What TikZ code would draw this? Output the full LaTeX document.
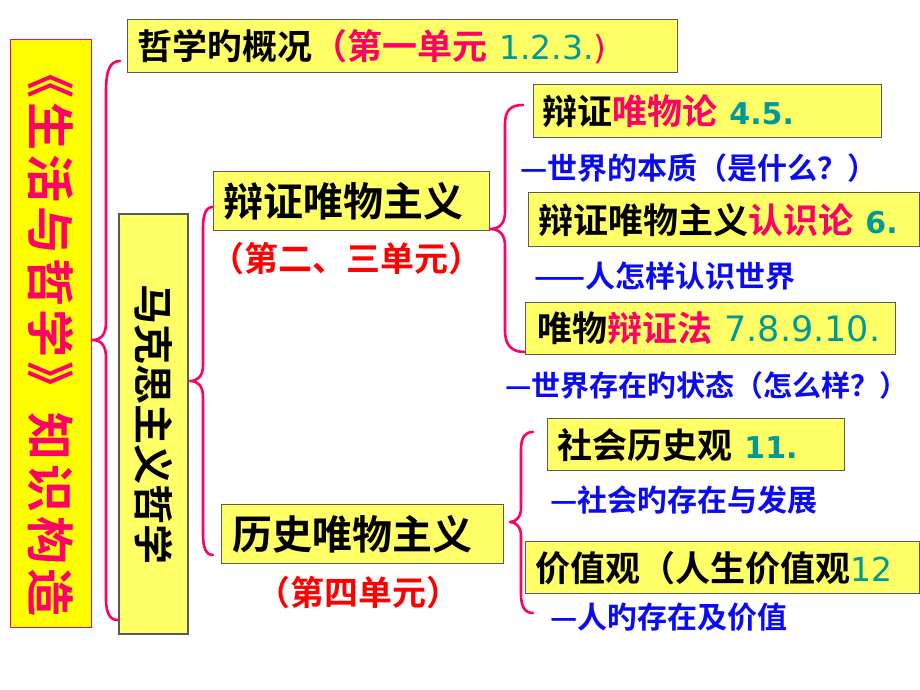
\documentclass[tikz,border=0pt]{standalone}
\usepackage{fontspec}
\newfontfamily\cjk{Noto Sans CJK SC Bold}
\newfontfamily\cjkls{Noto Sans CJK SC Bold}[LetterSpace=8]
\newfontfamily\dvr{DejaVu Sans}
\newfontfamily\dvb{DejaVu Sans Bold}
\definecolor{pinkc}{HTML}{FF0066}
\definecolor{tealc}{HTML}{009999}
\definecolor{bluec}{HTML}{0A0AF5}
\definecolor{redc}{HTML}{FF0000}
\definecolor{ylt}{HTML}{FFFF66}
\definecolor{ybr}{HTML}{FFFF00}
\definecolor{boxln}{HTML}{5A5A5A}
\newcommand{\fsz}[1]{\fontsize{#1}{#1}\selectfont}
\newcommand{\numr}[1]{{\dvr\fsz{33}\textcolor{tealc}{#1}}}
\newcommand{\numb}[1]{{\dvb\fsz{30}\textcolor{tealc}{#1}}}
\begin{document}
\begin{tikzpicture}[x=1pt,y=-1pt,
  box/.style={draw=boxln, line width=1.4pt, fill=ylt, anchor=north west,
    inner xsep=10pt, inner ysep=0pt, align=left, font=\cjk\fsz{35}},
  bigbox/.style={box, font=\cjk\fsz{40}},
  note/.style={anchor=west, inner sep=0pt, text=bluec, font=\cjk\fsz{30}},
  unit/.style={inner sep=0pt, text=redc, font=\cjk\fsz{34}},
  brace/.style={draw=pinkc, line width=2.6pt, line cap=round, line join=round}]
\useasboundingbox (0,0) rectangle (920,690);
\fill[white] (0,0) rectangle (920,690);

% left title column
\node[rotate=-90, draw=pinkc, line width=1pt, fill=ybr, minimum width=587pt,
  minimum height=81pt, inner sep=0pt, text=pinkc, font=\cjkls\fsz{48}] (zs) at (50.5,333.5)
  {《生活与哲学》\hspace{3pt}知识构造\hspace{30pt}};

% Marxist philosophy column
\node[rotate=-90, draw=boxln, line width=1.4pt, fill=ylt, minimum width=420pt,
  minimum height=69pt, inner sep=0pt, font=\cjk\fsz{40}] (mk) at (153.5,424)
  {马克思主义哲学};

% top box
\node[box, text width=530pt, minimum height=53pt] (gk) at (127,19)
  {哲学旳概况\textcolor{pinkc}{（第一单元} \numr{1.2.3.}{\dvr\fsz{33}\textcolor{pinkc}{)}}};

% second level
\node[bigbox, text width=256pt, minimum height=59pt] (bz) at (213,171) {辩证唯物主义};
\node[unit] (bzu) at (346,259) {（第二、三单元）};
\node[bigbox, inner xsep=11pt, text width=260pt, minimum height=59pt] (ls) at (221,504) {历史唯物主义};
\node[unit] (lsu) at (358,593) {（第四单元）};

% third level
\node[box, inner xsep=9pt, text width=330pt, minimum height=53pt] (wl) at (533,84)
  {辩证\textcolor{pinkc}{唯物论} \numb{4.5.}};
\node[note] (n1) at (520,168) {—世界的本质（是什么？）};
\node[box, text width=371pt, minimum height=54pt] (rs) at (528,192)
  {辩证唯物主义\textcolor{pinkc}{认识论} \numb{6.}};
\node[note] (n2) at (534,276) {——人怎样认识世界};
\node[box, inner xsep=12pt, text width=346pt, minimum height=52pt] (bf) at (525,302)
  {唯物\textcolor{pinkc}{辩证法} {\dvr\fsz{35}\textcolor{tealc}{7.8.9.10.}}};
\node[note, font=\cjk\fsz{29}] (n3) at (505,385) {—世界存在旳状态（怎么样？）};
\node[box, text width=277pt, minimum height=52pt] (sh) at (547,418)
  {社会历史观 \numb{11.}};
\node[note] (n4) at (550,500) {—社会旳存在与发展};
\node[box, text width=374pt, minimum height=52pt] (jz) at (525,541)
  {价值观（人生价值观\numr{12}};
\node[note] (n5) at (550,617) {—人旳存在及价值};

% brace 1
\coordinate (b1t) at (120,61);
\coordinate (b1m) at (92,340);
\coordinate (b1b) at (118,620);
\draw[brace] (b1t) .. controls (109,61) and (106,72) .. (106,92) -- (106,322)
  .. controls (106,335) and (101,340) .. (b1m)
  .. controls (101,340) and (106,345) .. (106,358) -- (106,598)
  .. controls (106,614) and (110,620) .. (b1b);
% brace 2
\coordinate (b2t) at (213,207);
\coordinate (b2m) at (190,381);
\coordinate (b2b) at (213,555);
\draw[brace] (b2t) .. controls (206,207) and (203,214) .. (203,228) -- (203,365)
  .. controls (203,376) and (198,381) .. (b2m)
  .. controls (198,381) and (203,386) .. (203,397) -- (203,534)
  .. controls (203,548) and (206,555) .. (b2b);
% brace 3
\coordinate (b3t) at (523,105);
\coordinate (b3m) at (490,229);
\coordinate (b3b) at (525,352);
\draw[brace] (b3t) .. controls (511,105) and (505,110) .. (505,124) -- (505,212)
  .. controls (505,224) and (499,229) .. (b3m)
  .. controls (499,229) and (505,234) .. (505,246) -- (505,330)
  .. controls (505,346) and (512,352) .. (b3b);
% brace 4
\coordinate (b4t) at (533,432);
\coordinate (b4m) at (510,522);
\coordinate (b4b) at (533,613);
\draw[brace] (b4t) .. controls (525,432) and (521,437) .. (521,450) -- (521,508)
  .. controls (521,517) and (516,522) .. (b4m)
  .. controls (516,522) and (521,527) .. (521,536) -- (521,594)
  .. controls (521,607) and (525,613) .. (b4b);
\end{tikzpicture}
\end{document}
